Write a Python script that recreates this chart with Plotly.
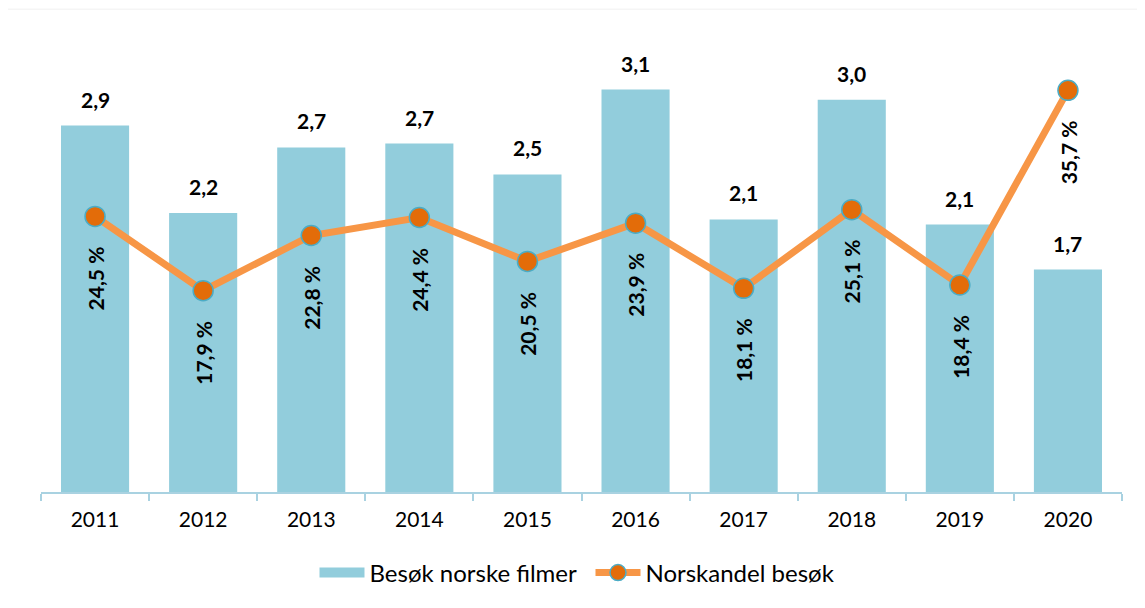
import plotly.graph_objects as go

years = ["2011", "2012", "2013", "2014", "2015", "2016", "2017", "2018", "2019", "2020"]
visits = [2.85, 2.17, 2.68, 2.71, 2.47, 3.13, 2.12, 3.05, 2.08, 1.73]  # millioner besøk
share = [24.5, 17.9, 22.8, 24.4, 20.5, 23.9, 18.1, 25.1, 18.4, 35.7]   # norskandel, %

bar_color = "#92CDDC"
line_color = "#F79646"
marker_color = "#E36C09"
marker_edge = "#4BACC6"
font_family = "Lato, 'Open Sans', sans-serif"

fig = go.Figure()
fig.add_trace(go.Bar(
    x=years, y=visits, name="Besøk norske filmer",
    marker=dict(color=bar_color, line=dict(width=0)),
    yaxis="y", xaxis="x", showlegend=False,
))
# legend entry for bars (wide swatch like the reference)
fig.add_trace(go.Scatter(
    x=[None], y=[None], name="Besøk norske filmer", mode="lines",
    line=dict(color=bar_color, width=14), yaxis="y", xaxis="x", hoverinfo="skip",
))
fig.add_trace(go.Scatter(
    x=years, y=share, name="Norskandel besøk", mode="lines+markers",
    line=dict(color=line_color, width=7),
    marker=dict(size=20, color=marker_color, line=dict(color=marker_edge, width=1.5)),
    yaxis="y2", xaxis="x",
))

label_font = dict(family=font_family, size=21, color="black")
annotations = []
for i, v in enumerate(visits):
    annotations.append(dict(
        x=i, y=v, xref="x", yref="y", text="<b>" + f"{v:.1f}".replace(".", ",") + "</b>",
        showarrow=False, yanchor="bottom", yshift=12, font=label_font,
    ))
for i, s in enumerate(share):
    annotations.append(dict(
        x=i, y=s, xref="x", yref="y2", text="<b>" + f"{s:.1f} %".replace(".", ",") + "</b>",
        showarrow=False, yanchor="middle", xanchor="center", yshift=-62, textangle=-90,
        font=label_font,
    ))

fig.update_layout(
    width=1137, height=600,
    margin=dict(l=33, r=23, t=34, b=116),
    paper_bgcolor="white", plot_bgcolor="white",
    font=dict(family=font_family, color="black"),
    bargap=0.37,
    showlegend=True,
    legend=dict(orientation="h", x=0.253, xanchor="left", y=-0.18, yanchor="middle",
                font=dict(size=24, family=font_family), itemwidth=45, entrywidth=216),
    xaxis=dict(
        type="category", categoryorder="array", categoryarray=years, range=[-0.5, 9.5],
        showgrid=False, showline=True, linecolor="#A9D2E1", linewidth=1.5,
        ticks="outside", tickson="boundaries", ticklen=7, tickcolor="#A9D2E1", tickwidth=1.5,
        tickfont=dict(size=21, family=font_family, color="black"), tickangle=0,
        ticklabelstandoff=8,
    ),
    yaxis=dict(range=[0, 3.5], visible=False, showgrid=False),
    yaxis2=dict(range=[0, 40], visible=False, showgrid=False, overlaying="y", side="right", anchor="x"),
    annotations=annotations,
    shapes=[dict(type="rect", xref="paper", yref="paper",
                 x0=-0.031, x1=1.03, y0=-0.27, y1=1.073,
                 line=dict(color="#F0F0F0", width=1), layer="below")],
)

fig.write_html("out.html")
